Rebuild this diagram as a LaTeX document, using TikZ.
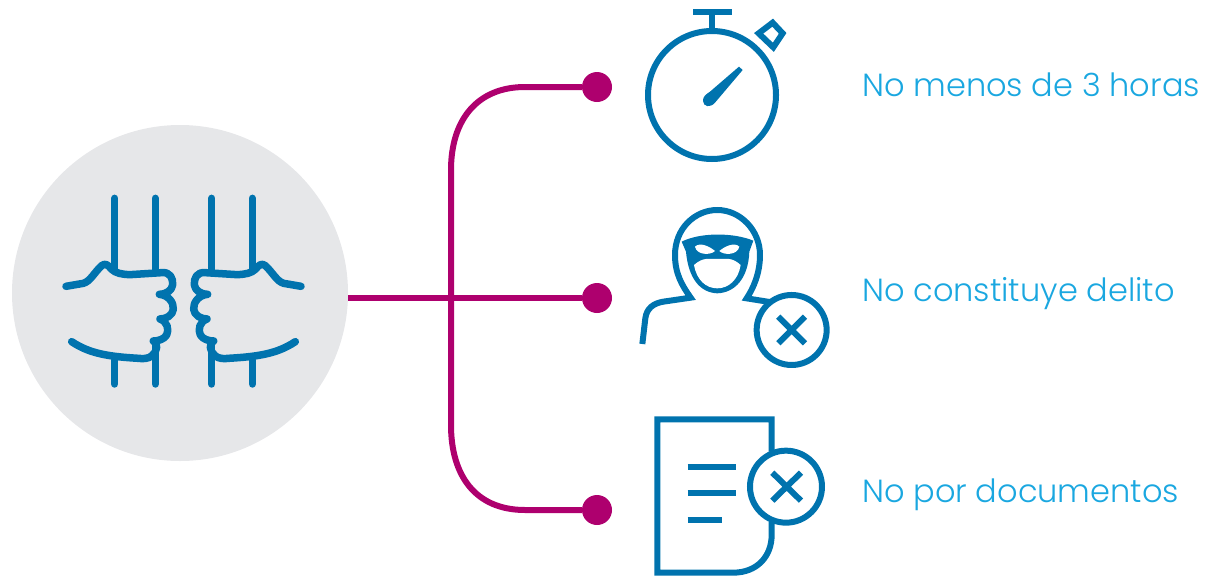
\documentclass[tikz,border=0pt]{standalone}
\usepackage{fontspec}
\setmainfont{Poppins}[UprightFont={* Light}]
\definecolor{iconblue}{HTML}{0073AE}
\definecolor{linkpink}{HTML}{AE006E}
\definecolor{labelblue}{HTML}{1AA7E0}
\definecolor{hubgrey}{HTML}{E6E7E9}
\tikzset{
  hub/.style={circle,fill=hubgrey,minimum size=336pt,inner sep=0},
  dotnode/.style={circle,fill=linkpink,minimum size=30pt,inner sep=0},
  link/.style={draw=linkpink,line width=6pt},
  ico/.style={draw=iconblue,line width=6pt,line join=miter},
  hand/.style={draw=iconblue,line width=7.5pt,line cap=round,line join=round},
  lab/.style={anchor=base west,text=labelblue,font=\fontsize{32}{36}\selectfont,inner sep=0},
  zoomed/.style={shift={#1},x=0.3333pt,y=-0.3333pt}
}
\newcommand{\handshape}{%
  \draw[hand] (224,85) -- (224,295) (346,85) -- (346,300) (224,570) -- (224,642) (346,515) -- (346,642);
  \draw[hand] (78,349) -- (130,340) .. controls (150,335) and (165,305) .. (185,287)
    .. controls (195,278) and (205,285) .. (215,298)
    .. controls (228,310) and (245,313) .. (270,314) -- (365,308)
    .. controls (390,305) and (400,325) .. (398,345)
    .. controls (395,362) and (380,372) .. (358,373)
    .. controls (385,375) and (402,398) .. (400,418)
    .. controls (398,435) and (380,447) .. (360,447)
    .. controls (382,455) and (388,478) .. (380,495)
    .. controls (372,508) and (355,513) .. (340,513)
    .. controls (356,520) and (352,545) .. (335,558)
    .. controls (325,566) and (310,567) .. (295,565)
    .. controls (210,560) and (150,552) .. (95,515);
}
\begin{document}
\begin{tikzpicture}[x=1pt,y=-1pt]
\useasboundingbox (0,0) rectangle (1225,576);
\node[hub] (hubc) at (180,293) {};
\node[dotnode] (d1) at (597,87) {};
\node[dotnode] (d2) at (597,298) {};
\node[dotnode] (d3) at (597,510) {};
\coordinate (spine) at (451,298);
\draw[link] (hubc.east |- d2) -- (d2);
\draw[link] (d1) -- ++(-72,0) .. controls ++(-48,0) and (451,120) .. (451,170) -- (451,425)
  .. controls (451,475) and (475,510) .. (525,510) -- (d3);
% hands
\begin{scope}[zoomed={(40,170)}]
\handshape
\end{scope}
\begin{scope}[shift={(327,170)},x=-0.3333pt,y=-0.3333pt]
\handshape
\end{scope}
% stopwatch
\draw[ico] (712,95) circle (64);
\draw[ico] (712,12) -- (712,30);
\draw[ico] (693,12) -- (732,12);
\begin{scope}[zoomed={(630,0)}]
\draw[ico] (428,68) -- (458,100) -- (430,142) -- (386,100) -- cycle;
\fill[iconblue] (327,200) -- (338,210) -- (255,308) .. controls (240,325) and (220,320) .. (219,303) .. controls (218,290) and (228,283) .. (240,275) -- cycle;
\end{scope}
% thief
\begin{scope}[zoomed={(620,195)}]
\draw[ico] (67,447) -- (76,370) .. controls (80,340) and (100,325) .. (130,320) -- (212,308)
  .. controls (185,270) and (165,235) .. (165,180) .. controls (165,100) and (225,45) .. (292,45)
  .. controls (360,45) and (420,105) .. (420,180) .. controls (420,235) and (400,280) .. (380,310) -- (455,322);
\fill[iconblue] (185,140) .. controls (240,112) and (340,112) .. (400,137)
  -- (388,170) .. controls (385,250) and (345,293) .. (292,295)
  .. controls (240,293) and (205,250) .. (198,170) -- cycle;
\fill[white] (222,210) .. controls (250,185) and (270,192) .. (292,192) .. controls (315,192) and (335,185) .. (362,210)
  .. controls (355,255) and (325,280) .. (292,280) .. controls (258,280) and (230,255) .. (222,210) -- cycle;
\fill[white] (225,155) .. controls (240,140) and (270,155) .. (285,168) .. controls (270,182) and (230,180) .. (225,155) -- cycle;
\fill[white] (358,155) .. controls (343,140) and (313,155) .. (298,168) .. controls (313,182) and (353,180) .. (358,155) -- cycle;
\draw[ico] (515,405) circle (35pt);
\draw[ico] (475,365) -- (555,445) (555,365) -- (475,445);
\end{scope}
% document
\begin{scope}[zoomed={(640,410)}]
\draw[ico] (395,125) -- (395,28) -- (52,28) -- (52,488) -- (280,488) .. controls (350,488) and (395,440) .. (395,375) -- (395,335);
\draw[ico] (143,170) -- (287,170) (143,250) -- (287,250) (143,330) -- (247,330);
\draw[ico] (438,230) circle (36pt);
\draw[ico] (397,188) -- (483,272) (483,188) -- (397,272);
\end{scope}
% labels
\node[lab] (t1) at (862,96) {No menos de 3 horas};
\node[lab] (t2) at (862,301) {No constituye delito};
\node[lab] (t3) at (862,502) {No por documentos};
\end{tikzpicture}
\end{document}
